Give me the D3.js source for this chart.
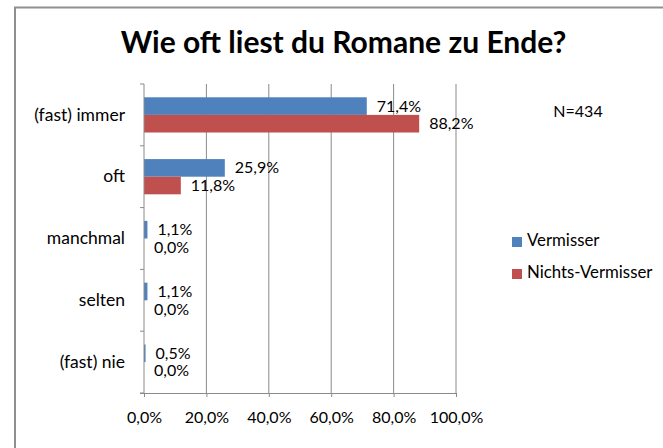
<!DOCTYPE html>
<html>
<head>
<meta charset="utf-8">
<script src="https://cdn.jsdelivr.net/npm/d3@7"></script>
<style>
  html, body { margin: 0; padding: 0; background: #fff; }
  svg { display: block; }
  text { font-family: Lato, "Open Sans", sans-serif; fill: #000; }
</style>
</head>
<body>
<svg id="chart" width="663" height="448"></svg>
<script>
const title = "Wie oft liest du Romane zu Ende?";
const note = "N=434";
const categories = ["(fast) immer", "oft", "manchmal", "selten", "(fast) nie"];
const seriesNames = ["Vermisser", "Nichts-Vermisser"];
const vermisser = [71.4, 25.9, 1.1, 1.1, 0.5];
const nichtsVermisser = [88.2, 11.8, 0.0, 0.0, 0.0];
const xTicks = [0, 20, 40, 60, 80, 100];
const colors = ["#4F81BD", "#C0504D"];

const locale = d3.formatLocale({decimal: ",", thousands: ".", grouping: [3], currency: ["", " €"]});
const fmt = v => locale.format(".1%")(v / 100);

const svg = d3.select("#chart");
const W = 663, H = 448;
const plot = {left: 144, right: 456, top: 84, bottom: 393};

// outer border
svg.append("rect")
  .attr("x", 15).attr("y", 7.5)
  .attr("width", W).attr("height", H)
  .attr("fill", "none").attr("stroke", "#8f8f8f").attr("stroke-width", 2);

// title
svg.append("text")
  .attr("x", 343.5).attr("y", 53)
  .attr("text-anchor", "middle")
  .style("font-weight", "bold").style("font-size", "30px")
  .text(title);

const x = d3.scaleLinear().domain([0, 100]).range([plot.left, plot.right]);
const y = d3.scaleBand().domain(categories).range([plot.top, plot.bottom])
  .paddingInner(0.43).paddingOuter(0.215);
const ySub = d3.scaleBand().domain(seriesNames).range([0, y.bandwidth()]);
const yOuter = d3.scaleBand().domain(categories).range([plot.top, plot.bottom]);

// gridlines
svg.append("g").selectAll("line")
  .data(xTicks.filter(t => t > 0))
  .join("line")
  .attr("x1", d => x(d)).attr("x2", d => x(d))
  .attr("y1", plot.top).attr("y2", plot.bottom)
  .attr("stroke", "#8a8a8a").attr("stroke-width", 1);

// bars
const series = [vermisser, nichtsVermisser];
const gBars = svg.append("g");
series.forEach((vals, si) => {
  gBars.selectAll(null)
    .data(vals.map((v, i) => ({v, c: categories[i]})))
    .join("rect")
    .attr("x", x(0))
    .attr("y", d => y(d.c) + ySub(seriesNames[si]))
    .attr("width", d => x(d.v) - x(0))
    .attr("height", ySub.bandwidth())
    .attr("fill", colors[si]);
  gBars.selectAll(null)
    .data(vals.map((v, i) => ({v, c: categories[i]})))
    .join("text")
    .attr("x", d => x(d.v) + 10)
    .attr("y", d => y(d.c) + ySub(seriesNames[si]) + ySub.bandwidth() / 2 + 1.5)
    .attr("dominant-baseline", "middle")
    .style("font-size", "16px")
    .text(d => fmt(d.v));
});

// x axis
const xAxis = d3.axisBottom(x).tickValues(xTicks).tickSize(4).tickPadding(15)
  .tickFormat(d => fmt(d));
const gx = svg.append("g").attr("transform", `translate(0,${plot.bottom})`).call(xAxis);
gx.select(".domain").attr("d", `M${plot.left - 4},0.5H${plot.right}`).attr("stroke", "#8a8a8a");
gx.selectAll(".tick line").attr("stroke", "#8a8a8a");
gx.selectAll(".tick text").style("font-size", "16px").style("font-family", "Lato, sans-serif").attr("fill", "#000");

// y axis
const yAxis = d3.axisLeft(yOuter).tickSize(0).tickPadding(19);
const gy = svg.append("g").attr("transform", `translate(${plot.left},0)`).call(yAxis);
gy.select(".domain").remove();
gy.selectAll(".tick text").style("font-size", "17.5px").style("font-family", "Lato, sans-serif").attr("fill", "#000");
// category boundary ticks
const bounds = categories.map(c => yOuter(c)).concat([plot.bottom]);
svg.append("g").selectAll("line").data(bounds).join("line")
  .attr("x1", plot.left - 4).attr("x2", plot.left)
  .attr("y1", d => d).attr("y2", d => d)
  .attr("stroke", "#8a8a8a");
svg.append("line")
  .attr("x1", plot.left).attr("x2", plot.left)
  .attr("y1", plot.top).attr("y2", plot.bottom)
  .attr("stroke", "#8a8a8a");

// N note
svg.append("text")
  .attr("x", 578).attr("y", 113)
  .attr("text-anchor", "middle").attr("dominant-baseline", "middle")
  .style("font-size", "16px")
  .text(note);

// legend
const legend = svg.append("g");
seriesNames.forEach((name, i) => {
  const ly = 242 + i * 32;
  legend.append("rect").attr("x", 512).attr("y", ly - 5).attr("width", 10).attr("height", 10).attr("fill", colors[i]);
  legend.append("text").attr("x", 527).attr("y", ly).attr("dominant-baseline", "middle")
    .style("font-size", "16.8px").text(name);
});
</script>
</body>
</html>
